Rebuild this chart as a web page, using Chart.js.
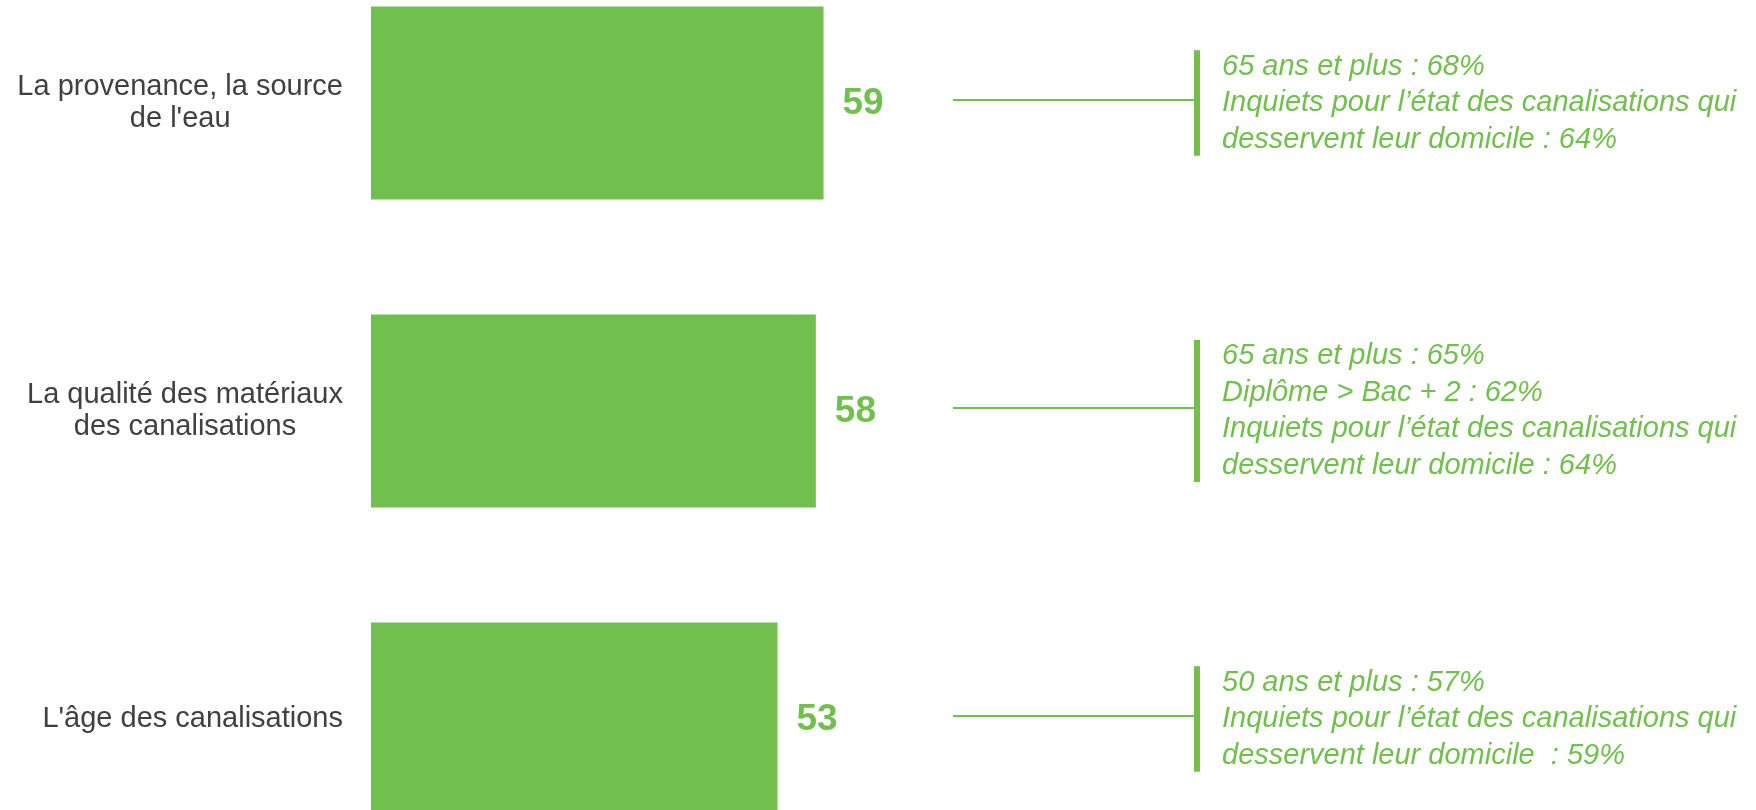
<!DOCTYPE html>
<html>
<head>
<meta charset="utf-8">
<script src="https://cdn.jsdelivr.net/npm/chart.js@4/dist/chart.umd.min.js"></script>
<style>
  html, body { margin: 0; padding: 0; background: #fff; overflow: hidden; width: 1756px; height: 810px; }
  #wrap { position: absolute; left: 0; top: -51px; width: 1756px; height: 924px; }
</style>
</head>
<body>
<div id="wrap"><canvas id="chart" width="1756" height="924"></canvas></div>
<script>
// chart data
const categories = [
  ["La provenance, la source", "de l'eau"],
  ["La qualité des matériaux", "des canalisations"],
  ["L'âge des canalisations"]
];
const values = [59, 58, 53];
const notes = [
  ["65 ans et plus : 68%", "Inquiets pour l’état des canalisations qui", "desservent leur domicile : 64%"],
  ["65 ans et plus : 65%", "Diplôme > Bac + 2 : 62%", "Inquiets pour l’état des canalisations qui", "desservent leur domicile : 64%"],
  ["50 ans et plus : 57%", "Inquiets pour l’état des canalisations qui", "desservent leur domicile  : 59%"]
];

const GREEN = '#71bf4c';
const FONT = '"Liberation Sans", Arial, sans-serif';

// category labels, value labels and the side notes
const annotate = {
  id: 'annotate',
  afterDatasetsDraw(chart) {
    const ctx = chart.ctx;
    const meta = chart.getDatasetMeta(0);
    const yScale = chart.scales.y;
    ctx.save();
    ctx.textBaseline = 'middle';

    categories.forEach((lines, i) => {
      const y = yScale.getPixelForValue(i);
      const bar = meta.data[i];

      // left label, block right-aligned, lines centered
      ctx.font = '29px ' + FONT;
      ctx.fillStyle = '#404040';
      ctx.textAlign = 'center';
      const widest = Math.max(...lines.map(l => ctx.measureText(l).width));
      const cx = 343 - widest / 2;
      const lh = 32.5;
      lines.forEach((l, k) => {
        ctx.fillText(l, cx, y + (k - (lines.length - 1) / 2) * lh);
      });

      // value
      ctx.font = 'bold 37px ' + FONT;
      ctx.fillStyle = GREEN;
      ctx.textAlign = 'left';
      ctx.fillText(String(values[i]), bar.x + 19, y + 1);

      // connector + bracket
      ctx.strokeStyle = GREEN;
      ctx.lineWidth = 2;
      ctx.beginPath();
      ctx.moveTo(953, y - 3);
      ctx.lineTo(1196, y - 3);
      ctx.stroke();

      const nl = notes[i];
      const nlh = 36.5;
      const half = nl.length * nlh / 2;
      ctx.fillStyle = GREEN;
      ctx.fillRect(1194, y - half + 2, 6, half * 2 - 4);

      ctx.font = 'italic 29px ' + FONT;
      nl.forEach((l, k) => {
        ctx.fillText(l, 1222, y + (k - (nl.length - 1) / 2) * nlh);
      });
    });
    ctx.restore();
  }
};

new Chart(document.getElementById('chart'), {
  type: 'bar',
  data: {
    labels: categories,
    datasets: [{
      data: values,
      backgroundColor: GREEN,
      borderWidth: 0,
      barPercentage: 0.627,
      categoryPercentage: 1
    }]
  },
  options: {
    indexAxis: 'y',
    responsive: false,
    animation: false,
    devicePixelRatio: 1,
    layout: { padding: { left: 371, right: 618, top: 0, bottom: 0 } },
    plugins: { legend: { display: false }, tooltip: { enabled: false } },
    scales: {
      x: { display: false, min: 0, max: 100 },
      y: { display: false }
    }
  },
  plugins: [annotate]
});
</script>
</body>
</html>
